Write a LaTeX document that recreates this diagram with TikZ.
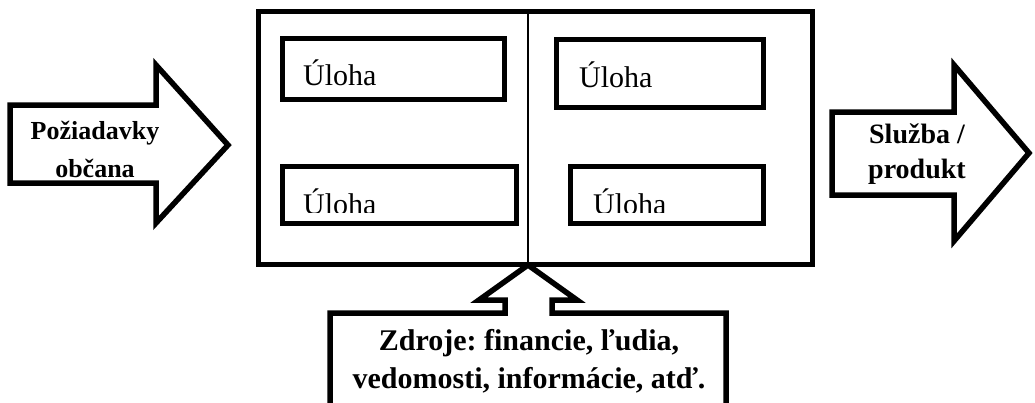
\documentclass[tikz,border=0pt]{standalone}
\usepackage{fontspec}
\setmainfont{Liberation Serif}
\frenchspacing
\begin{document}
\begin{tikzpicture}[x=1pt,y=-1pt,
  frame/.style={line width=5pt, line join=miter},
  divider/.style={line width=1.3pt},
  blockarrow/.style={line width=5.5pt, line join=miter, fill=white},
  tasklabel/.style={anchor=base west, inner sep=0pt, font=\fontsize{30}{36}\selectfont},
  inlabel/.style={anchor=base, inner sep=0pt, font=\fontsize{26}{31}\selectfont\bfseries},
  outlabel/.style={anchor=base, inner sep=0pt, font=\fontsize{28}{33}\selectfont\bfseries},
  sourcelabel/.style={anchor=base, inner sep=0pt, font=\fontsize{30}{36}\selectfont\bfseries}]
\useasboundingbox (0,0) rectangle (1035,402);
\fill[white] (0,0) rectangle (1035,402);

% process frame split into two halves
\draw[frame] (258.5,11) rectangle (812,264);
\draw[divider] (528,11) -- (528,264);

% task boxes
\draw[frame] (282.5,38.5) rectangle (504,99);
\draw[frame] (556.5,39) rectangle (763.5,107);
\draw[frame] (282.5,166.5) rectangle (516,223);
\draw[frame] (570,166.5) rectangle (763.5,223);
\node[tasklabel] (t1) at (303,85) {Úloha};
\node[tasklabel] (t2) at (579,87) {Úloha};
\begin{scope}
  \clip (280,160) rectangle (780,212.5);
  \node[tasklabel] (t3) at (303,214) {Úloha};
  \node[tasklabel] (t4) at (593,214) {Úloha};
\end{scope}

% input arrow
\draw[blockarrow] (10,105) -- (156,105) -- (156,65) -- (228,145)
  -- (156,223) -- (156,183) -- (10,183) -- cycle;
\node[inlabel] (in1) at (95,139) {Požiadavky};
\node[inlabel] (in2) at (95,177) {občana};

% output arrow
\draw[blockarrow] (832,112) -- (954,112) -- (954,65) -- (1029,153)
  -- (954,241) -- (954,195) -- (832,195) -- cycle;
\node[outlabel] (out1) at (917,143) {Služba /};
\node[outlabel] (out2) at (917,178) {produkt};

% resources callout pointing up at the frame
\draw[blockarrow] (330,430) -- (330,313) -- (505,313) -- (505,300)
  -- (479,300) -- (528,265) -- (577,300) -- (552,300) -- (552,313)
  -- (726,313) -- (726,430);
\node[sourcelabel] (src1) at (529,350) {Zdroje: financie, ľudia,};
\node[sourcelabel] (src2) at (529,388) {vedomosti, informácie, atď.};
\end{tikzpicture}
\end{document}
